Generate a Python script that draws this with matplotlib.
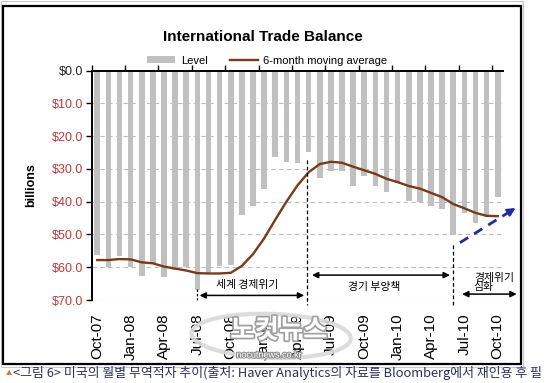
import numpy as np
import matplotlib
matplotlib.use("Agg")
import matplotlib.pyplot as plt
from matplotlib.patches import Rectangle, Ellipse
import matplotlib.patheffects as pe

plt.rcParams['font.family'] = ['Liberation Sans', 'Noto Sans CJK KR', 'DejaVu Sans']
KR = ['Noto Sans CJK KR', 'DejaVu Sans']

# monthly trade deficit, Oct-07 .. Oct-10 (billions, shown downward)
level = [56.4, 60.0, 56.6, 60.0, 62.7, 59.0, 63.0, 60.7, 60.0, 66.8,
         62.2, 59.6, 59.3, 44.2, 41.2, 36.0, 26.4, 27.9, 28.1, 24.9,
         32.7, 30.5, 30.7, 35.3, 32.2, 35.3, 37.1, 34.2, 39.8, 40.1,
         41.2, 42.1, 50.3, 43.5, 46.5, 44.6, 38.6]
moving_avg = [57.8, 57.8, 57.5, 57.6, 58.5, 58.8, 59.8, 60.4, 61.0, 61.8,
              61.9, 61.9, 61.7, 59.6, 56.0, 51.2, 45.5, 40.0, 35.0, 31.0,
              28.5, 27.8, 28.1, 29.3, 30.4, 31.5, 33.0, 34.0, 35.2, 36.0,
              37.3, 38.6, 40.7, 42.0, 43.4, 44.3, 44.4]
tick_labels = ['Oct-07', 'Jan-08', 'Apr-08', 'Jul-08', 'Oct-08', 'Jan-09', 'Apr-09',
               'Jul-09', 'Oct-09', 'Jan-10', 'Apr-10', 'Jul-10', 'Oct-10']
y_ticks = [0, 10, 20, 30, 40, 50, 60, 70]

bar_color = '#c0c0c0'
line_color = '#7a3a16'
red = '#c0393b'

fig = plt.figure(figsize=(5.5, 3.83), dpi=100)
ax = fig.add_axes([0.1667, 0.2167, 0.7484, 0.5987])

x = np.arange(len(level))
bars = ax.bar(x, level, width=0.5, color=bar_color, label='Level', zorder=2)
line, = ax.plot(x, moving_avg, color=line_color, lw=1.7, label='6-month moving average', zorder=3)

ax.set_xlim(-0.5, 36.5)
ax.set_ylim(70, 0)

ax.set_yticks(y_ticks, ['$%.1f' % v for v in y_ticks])
for i, lab in enumerate(ax.get_yticklabels()):
    lab.set_color('#222222' if i == 0 else red)
ax.tick_params(axis='y', direction='out', length=4, width=1, pad=2, labelsize=9)

ax.set_xticks(x[::3], tick_labels, rotation=90)
ax.tick_params(axis='x', which='major', bottom=False, top=False, labelbottom=True,
               labelsize=11, pad=6)
ax.set_xticks(np.arange(-0.5, 36, 3), minor=True)
ax.tick_params(axis='x', which='minor', bottom=False, top=True, direction='out',
               length=4, width=1)

ax.grid(axis='y', color='#bdbdbd', ls=(0, (4, 3)), lw=0.8)
ax.set_axisbelow(True)
for s in ['right', 'bottom']:
    ax.spines[s].set_visible(False)
for s in ['left', 'top']:
    ax.spines[s].set_linewidth(1.4)

ax.set_ylabel('billions', fontsize=9, fontweight='bold', va='center')
ax.yaxis.set_label_coords(-0.1475, 0.5)

fig.text(0.478, 0.903, 'International Trade Balance', ha='center', va='center',
         fontsize=11, fontweight='bold')
fig.legend(handles=[bars, line], loc='center', bbox_to_anchor=(0.486, 0.8415), ncol=2,
           frameon=False, fontsize=8, handlelength=2.5, handleheight=0.6,
           handletextpad=0.5, columnspacing=2.0)

# annotations: phases
arrow_kw = dict(arrowstyle='<|-|>', color='black', lw=1.1, mutation_scale=9,
                shrinkA=0, shrinkB=0)
ax.annotate('', xy=(18.6, 68.6), xytext=(9.2, 68.6), arrowprops=arrow_kw, annotation_clip=False)
ax.annotate('', xy=(31.7, 62.4), xytext=(19.3, 62.4), arrowprops=arrow_kw, annotation_clip=False)
ax.annotate('', xy=(37.7, 68.2), xytext=(32.8, 68.2), arrowprops=arrow_kw, annotation_clip=False)
ax.plot([18.85, 18.85], [27.3, 71.5], color='black', lw=0.9, ls=(0, (3, 2)), clip_on=False, zorder=4)
ax.plot([32.0, 32.0], [53.2, 71.5], color='black', lw=0.9, ls=(0, (3, 2)), clip_on=False, zorder=4)
ax.plot([8.95, 8.95], [66.5, 70.0], color='black', lw=0.9, ls=(0, (2, 1.5)), clip_on=False, zorder=4)

ax.text(13.5, 65.4, '세계 경제위기', ha='center', va='center', fontsize=7.8, family=KR)
ax.text(24.9, 65.9, '경기 부양책', ha='center', va='center', fontsize=7.8, family=KR)
ax.text(33.85, 64.6, '경제위기\n심화', ha='left', va='center', fontsize=7.8,
        family=KR, linespacing=0.95)

# blue dashed trend arrow
blue = '#1f2aa8'
ax.plot([32.6, 37.0], [52.5, 43.2], color=blue, lw=2, ls=(0, (3.5, 2.5)), clip_on=False, zorder=4)
ax.annotate('', xy=(37.6, 41.9), xytext=(36.9, 43.4),
            arrowprops=dict(arrowstyle='-|>', color=blue, lw=1.5, mutation_scale=12,
                            shrinkA=0, shrinkB=0), annotation_clip=False)

# frame
fig.patches.append(Rectangle((0.002, 0.042), 0.949, 0.955, transform=fig.transFigure,
                             fill=False, ec='#c8c8c8', lw=0.8))
fig.patches.append(Rectangle((0.0055, 0.0496), 0.941, 0.9347, transform=fig.transFigure,
                             fill=False, ec='black', lw=1.6))

# watermark
fig.patches.append(Ellipse((0.493, 0.123), 0.29, 0.115, angle=-3, transform=fig.transFigure,
                           fill=False, ec='#d9d9d9', lw=3, alpha=0.9, zorder=5))
wm = fig.text(0.507, 0.137, '노컷뉴스', ha='center', va='center', fontsize=19,
              fontweight='bold', color='white', family=KR, zorder=6)
wm.set_path_effects([pe.withStroke(linewidth=2.5, foreground='#a0a0a0')])
wm2 = fig.text(0.489, 0.073, 'nocutnews.co.kr', ha='center', va='center', fontsize=6.5,
               color='white', zorder=6)
wm2.set_path_effects([pe.withStroke(linewidth=1.5, foreground='#909090')])

# caption
fig.text(0.011, 0.026, '▲', ha='left', va='center', fontsize=4.5, color='#e07030', family=KR)
fig.text(0.023, 0.026, '<그림 6> 미국의 월별 무역적자 추이(출처: Haver Analytics의 자료를 '
         'Bloomberg에서 재인용 후 필', ha='left', va='center', fontsize=9.3,
         color='#2e2e5e', family=KR)

fig.savefig('out.png', dpi=100)
